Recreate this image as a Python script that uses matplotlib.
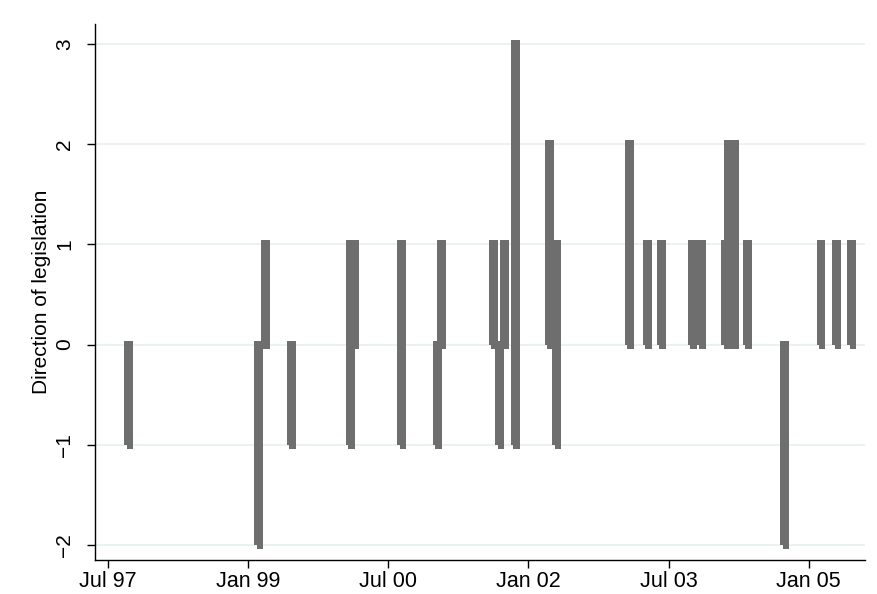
import numpy as np
import matplotlib
matplotlib.use("Agg")
import matplotlib.pyplot as plt

# dates of legislation (decimal years) and direction of each act
dates = [1997.71, 1999.10, 1999.17, 1999.45,
         2000.08, 2000.08, 2000.13, 2000.63, 2000.63,
         2001.01, 2001.06, 2001.61, 2001.68, 2001.73,
         2001.85, 2001.85, 2002.21, 2002.29, 2002.29,
         2003.07, 2003.26, 2003.41, 2003.74, 2003.84,
         2004.10, 2004.13, 2004.19, 2004.33, 2004.73,
         2005.12, 2005.29, 2005.45]
direction = [-1, -2, 1, -1,
             1, -1, 1, 1, -1,
             -1, 1, 1, -1, 1,
             3, -1, 2, 1, -1,
             2, 1, 1, 1, 1,
             1, 2, 2, 1, -2,
             1, 1, 1]

tick_pos = [1997.5, 1999.0, 2000.5, 2002.0, 2003.5, 2005.0]
tick_labels = ["Jul 97", "Jan 99", "Jul 00", "Jan 02", "Jul 03", "Jan 05"]
y_ticks = [-2, -1, 0, 1, 2, 3]

plt.rcParams['font.family'] = ['Liberation Sans', 'DejaVu Sans']

fig = plt.figure(figsize=(8.77, 5.94), dpi=100)
ax = fig.add_axes([0.1083, 0.0572, 0.8777, 0.9027])

x = np.array(dates)
v = np.array(direction, dtype=float)
lo = np.minimum(v, 0)
hi = np.maximum(v, 0)

bar_color = "#6e6e6e"
w = 0.07
# slightly offset copy, gives the stepped look at the lower end of each bar
ax.bar(x + 0.025, hi - lo + 0.085, bottom=lo - 0.045, width=w,
       color=bar_color, linewidth=0, zorder=3)
ax.bar(x, hi - lo + 0.04, bottom=lo, width=w, color=bar_color, linewidth=0, zorder=3)

ax.set_xlim(1997.36, 2005.6)
ax.set_ylim(-2.15, 3.2)
ax.set_yticks(y_ticks)
ax.set_yticklabels([str(t).replace("-", "\u2212") for t in y_ticks],
                   rotation=90, va="center", fontsize=15)
ax.set_xticks(tick_pos)
ax.set_xticklabels(tick_labels, fontsize=15.5)
ax.tick_params(axis="both", length=6, width=1, direction="out", color="black")
ax.tick_params(axis="y", pad=9)
ax.tick_params(axis="x", pad=2)

ax.grid(axis="y", color="#e8f0f2", linewidth=1.2, zorder=0)
ax.set_axisbelow(True)
for s in ["top", "right"]:
    ax.spines[s].set_visible(False)
for s in ["left", "bottom"]:
    ax.spines[s].set_linewidth(1)

ax.set_ylabel("Direction of legislation", fontsize=15, labelpad=3)

fig.savefig("out.png", dpi=100)
